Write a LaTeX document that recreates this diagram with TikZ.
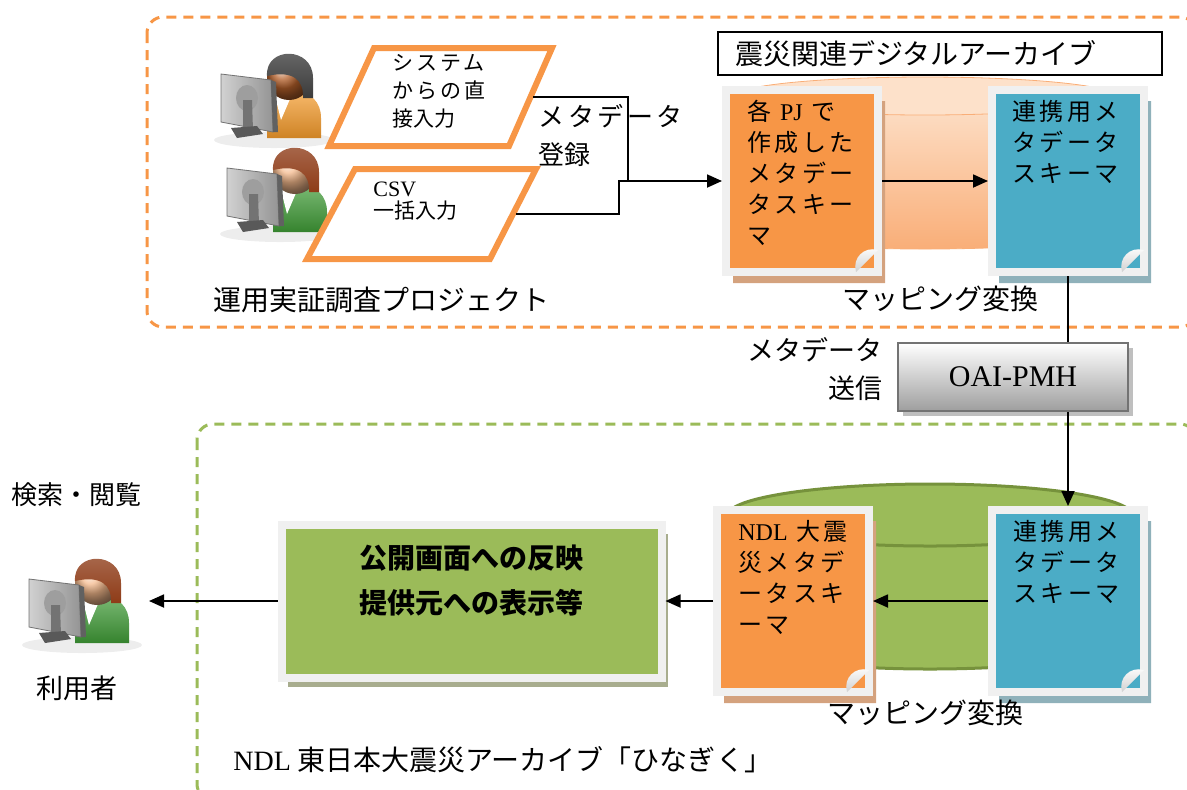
\documentclass[tikz,border=0pt]{standalone}
\usepackage{fontspec}
\setmainfont{Noto Sans CJK JP}
\newfontfamily\jpw[LetterSpace=14]{Noto Sans CJK JP}
\newfontfamily\tms{Liberation Serif}
\usetikzlibrary{arrows.meta,shapes.misc,shadows}

\definecolor{orgline}{HTML}{F79646}
\definecolor{grnline}{HTML}{9BBB59}
\definecolor{docorg}{HTML}{F79646}
\definecolor{docblue}{HTML}{4BACC6}
\definecolor{boxgrn}{HTML}{9BBB59}
\definecolor{paper}{HTML}{F0F0F0}
\definecolor{orgshade}{HTML}{D4A27E}
\definecolor{blueshade}{HTML}{8FB1BA}
\definecolor{grnshade}{HTML}{A8AD8E}
\definecolor{dbgrn}{HTML}{9BBB59}
\definecolor{dbgrnedge}{HTML}{76923C}
\definecolor{dbpeach}{HTML}{F9AE78}
\definecolor{dbpeachtop}{HTML}{FDE1CA}
\definecolor{hairdark}{HTML}{3B3B3B}
\definecolor{hairred}{HTML}{8E3B17}
\definecolor{skindark}{HTML}{B5602A}
\definecolor{skinlight}{HTML}{F4B98C}
\definecolor{shirtorg}{HTML}{F39A2B}
\definecolor{shirtgrn}{HTML}{3F9A36}

\tikzset{
  pics/person/.style n args={3}{code={
    \fill[black!7] (-15,62) ellipse [x radius=60, y radius=8];
    \shade[top color=#3!70!white, bottom color=#3!85!black] (-22,60) -- (-22,36) .. controls (-20,20) and (-8,14) .. (6,14) .. controls (22,14) and (32,24) .. (32,40) -- (32,60) -- cycle;
    \fill[white] (-14,18) -- (4,14) -- (-8,42) -- cycle;
    \shade[ball color=#1] (0,0) circle (22);
    \shade[top color=#2!75!white, bottom color=#2] (-22,-2) .. controls (-24,-32) and (24,-32) .. (24,0) -- (24,20) -- (14,20) .. controls (15,2) and (4,-8) .. (-22,-2) -- cycle;
    \shade[left color=black!18, right color=black!42, draw=black!55] (-68,-4) -- (-18,2) -- (-16,54) -- (-68,44) -- cycle;
    \fill[black!62] (-18,2) -- (-13,4) -- (-11,54) -- (-16,54) -- cycle;
    \fill[black!38] (-42,20) ellipse [x radius=11, y radius=13];
    \fill[black!55] (-46,22) -- (-37,22) -- (-36,52) -- (-46,50) -- cycle;
    \fill[black!65] (-58,50) -- (-32,48) -- (-26,56) -- (-52,60) -- cycle;
    \coordinate (-front) at (52,17);
  }}
}

\begin{document}
\begin{tikzpicture}[x=0.5pt,y=-0.5pt,
  conn/.style={line width=0.9pt},
  arr/.style={conn,-{Triangle[length=7.5pt,width=6.5pt]}},
  zone/.style={dash pattern=on 5pt off 3.5pt,line width=1.5pt,rounded corners=8pt},
  inbox/.style={draw=orgline,fill=white,line width=3pt},
  doc/.style={chamfered rectangle,chamfered rectangle corners=south east,chamfered rectangle xsep=8pt,chamfered rectangle ysep=8pt,draw=paper,line width=4pt,inner sep=0,minimum width=76pt,minimum height=91pt},
  docshade/.style={drop shadow={shadow xshift=3.5pt,shadow yshift=-5.5pt,fill=#1,opacity=1}},
  doctxt/.style={anchor=north west,inner sep=0,align=left,font=\fontsize{12}{15.5}\selectfont\jpw},
  lbl/.style={inner sep=0,font=\fontsize{14}{17}\selectfont},
]
\useasboundingbox (0,0) rectangle (1187,789);

\draw[zone,orgline] (147,17) rectangle (1196,327);
\draw[zone,grnline] (197,424) rectangle (1196,800);

\shade[top color=dbpeachtop,bottom color=dbpeach,draw=dbpeach] (735,96) -- (735,230) arc[start angle=180,end angle=0,x radius=190,y radius=19] -- (1115,96) -- cycle;
\fill[dbpeachtop,draw=dbpeach] (925,96) ellipse [x radius=190, y radius=19];
\fill[dbgrn,draw=dbgrnedge,line width=1.5pt] (728,515) -- (728,638) arc[start angle=180,end angle=0,x radius=202,y radius=31] -- (1132,515) -- cycle;
\fill[dbgrn,draw=dbgrnedge,line width=1.5pt] (930,515) ellipse [x radius=202, y radius=31];

\node[draw,fill=white,line width=0.8pt,minimum width=222pt,minimum height=21.5pt,text width=205pt,align=left,inner sep=0,font=\fontsize{14}{17}\selectfont] (arch) at (940,53.5) {震災関連デジタルアーカイブ};

\pic at (289,78) {person={skindark}{hairdark}{shirtorg}};
\pic at (295,172) {person={skinlight}{hairred}{shirtgrn}};
\pic (user) at (97,583) {person={skinlight}{hairred}{shirtgrn}};

\draw[inbox] (374,48) -- (552,48) -- (509,146) -- (329,146) -- cycle;
\draw[inbox] (355,169) -- (536,169) -- (490,259) -- (307,259) -- cycle;
\coordinate (sysin) at (533,97);
\coordinate (csvin) at (516,214);
\node[anchor=north west,inner sep=0,align=left,font=\fontsize{10.5}{14}\selectfont] (sysin-txt) at (392,54) {{\jpw システム}\\{\jpw からの直}\\接入力};
\node[anchor=north west,inner sep=0,align=left,font=\fontsize{10.5}{11}\selectfont] (csvin-txt) at (373,182) {{\tms\fontsize{11}{11}\selectfont CSV}\\一括入力};
\node[anchor=north west,inner sep=0,align=left,font=\fontsize{13}{19}\selectfont] (regist) at (538,104) {{\jpw メタデータ}\\登録};

\node[doc,fill=docorg,docshade=orgshade] (pjschema) at (802,181) {};
\node[doc,fill=docblue,docshade=blueshade] (linkup) at (1068,181) {};
\node[doc,fill=docorg,docshade=orgshade] (ndlschema) at (793,601) {};
\node[doc,fill=docblue,docshade=blueshade] (linklow) at (1068,601) {};
\foreach \d in {pjschema,linkup,ndlschema,linklow} {
  \coordinate (c) at (\d.east |- \d.south);
  \shade[top color=white,bottom color=black!18] ([shift={(-26,-4)}]c) .. controls ([shift={(-30,-18)}]c) and ([shift={(-18,-30)}]c) .. ([shift={(-4,-26)}]c) -- cycle;
}
\node[doctxt] at ([shift={(25,14)}]pjschema.north west) {各 {\tms PJ} で\\作成した\\メタデー\\タスキー\\マ};
\node[doctxt] at ([shift={(24,14)}]linkup.north west) {連携用メ\\タデータ\\スキーマ};
\node[doctxt] at ([shift={(25,14)}]ndlschema.north west) {{\tms NDL} 大震\\災メタデ\\ータスキ\\ーマ};
\node[doctxt] at ([shift={(25,14)}]linklow.north west) {連携用メ\\タデータ\\スキーマ};

\node[draw=black!55,line width=1.2pt,top color=white,bottom color=black!38,minimum width=115pt,minimum height=34pt,inner sep=0,font=\fontsize{15}{18}\selectfont\tms,drop shadow={shadow xshift=2.5pt,shadow yshift=-2.5pt,fill=black!25,opacity=1}] (oai) at (1013,377) {OAI-PMH};
\node[anchor=north east,inner sep=0,align=right,font=\fontsize{13.5}{19}\selectfont] (send) at (883,337) {メタデータ\\送信};

\node[draw=paper,line width=4pt,fill=boxgrn,minimum width=190pt,minimum height=76.5pt,inner sep=0,drop shadow={shadow xshift=3pt,shadow yshift=-4.5pt,fill=grnshade,opacity=1}] (view) at (471.5,601) {};
\node[inner sep=0,align=center,font=\fontsize{14}{22.5}\selectfont\bfseries] (view-txt) at (471,581) {公開画面への反映\\提供元への表示等};

\coordinate (join1) at (628,181);
\coordinate (join2) at (619,181);
\draw[conn] (sysin) -| (join1);
\draw[arr] (csvin) -| (join2) -- (pjschema.west);
\draw[arr] (pjschema.east) -- (linkup.west);
\draw[conn] (linkup.south) -- (linkup.south |- oai.north);
\draw[arr] (linklow.north |- oai.south) -- (linklow.north);
\draw[arr] (linklow.west) -- (ndlschema.east);
\draw[arr] (ndlschema.west) -- (view.east);
\draw[arr] (view.west) -- (view.west -| user-front);

\node[lbl,anchor=west] (proj) at (213,300) {運用実証調査プロジェクト};
\node[lbl] (mapup) at (940,299) {マッピング変換};
\node[lbl] (maplow) at (925,713) {マッピング変換};
\node[lbl,anchor=west] (ndlarch) at (233,760) {{\tms NDL} 東日本大震災アーカイブ「ひなぎく」};
\node[lbl,anchor=west,font=\fontsize{13}{16}\selectfont] (search) at (11,495) {検索・閲覧};
\node[lbl,font=\fontsize{13.5}{16}\selectfont] (userlbl) at (77,688) {利用者};
\end{tikzpicture}
\end{document}
